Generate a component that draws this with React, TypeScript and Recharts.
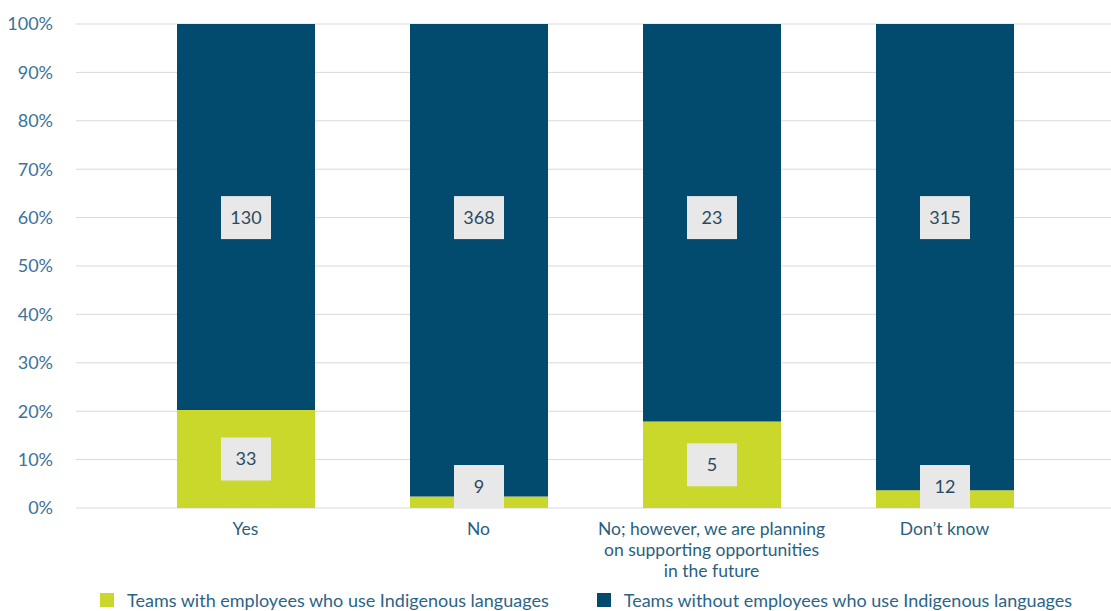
import { Bar, BarChart, CartesianGrid, LabelList, XAxis, YAxis } from "recharts";

const categories = [
  "Yes",
  "No",
  "No; however, we are planning on supporting opportunities in the future",
  "Don’t know",
];
const tickLines: string[][] = [
  ["Yes"],
  ["No"],
  ["No; however, we are planning", "on supporting opportunities", "in the future"],
  ["Don’t know"],
];
const withLanguages = [33, 9, 5, 12];
const withoutLanguages = [130, 368, 23, 315];
const yTicks = [0, 0.1, 0.2, 0.3, 0.4, 0.5, 0.6, 0.7, 0.8, 0.9, 1];

const seriesNames = [
  "Teams with employees who use Indigenous languages",
  "Teams without employees who use Indigenous languages",
];

const LIME = "#c9d82b";
const NAVY = "#024a6e";
const FONT = "Lato, 'Open Sans', sans-serif";
const PLOT_H = 484;
const BOX_W = 50;
const BOX_H = 43;

const data = categories.map((c, i) => ({
  name: c,
  with: withLanguages[i],
  without: withoutLanguages[i],
}));

function ValueBox({ cx, cy, value }: { cx: number; cy: number; value: any }) {
  return (
    <g>
      <rect x={cx - BOX_W / 2} y={cy - BOX_H / 2} width={BOX_W} height={BOX_H} fill="#e8e8e8" />
      <text
        x={cx}
        y={cy}
        dy={6}
        textAnchor="middle"
        fontFamily={FONT}
        fontSize={18}
        fill="#2b4a60"
      >
        {value}
      </text>
    </g>
  );
}

// bottom segment: centred, but never hangs below the axis
const bottomLabel = (props: any) => {
  const { x, y, width, height, value } = props;
  let cy = y + height / 2;
  if (cy + BOX_H / 2 > y + height) cy = y + height - BOX_H / 2;
  return <ValueBox cx={x + width / 2} cy={cy} value={value} />;
};

// top segment: labels sit at the 60% line
const topLabel = (props: any) => {
  const { x, y, width, value } = props;
  return <ValueBox cx={x + width / 2} cy={y + 0.4 * PLOT_H} value={value} />;
};

const CategoryTick = (props: any) => {
  const { x, y, index } = props;
  const lines = tickLines[index] ?? [props.payload.value];
  return (
    <text x={x} y={y + 27} textAnchor="middle" fontFamily={FONT} fontSize={17.5} fill="#2a5f80">
      {lines.map((l, i) => (
        <tspan key={i} x={x} dy={i === 0 ? 0 : 21}>
          {l}
        </tspan>
      ))}
    </text>
  );
};

export default function App() {
  return (
    <div style={{ position: "absolute", left: 0, top: 0, width: 1111, height: 611, background: "#fff" }}>
      <BarChart
        width={1111}
        height={611}
        data={data}
        stackOffset="expand"
        margin={{ top: 24, right: 0, left: 0, bottom: 43 }}
      >
        <CartesianGrid vertical={false} stroke="#d9d9d9" />
        <XAxis
          dataKey="name"
          axisLine={false}
          tickLine={false}
          tickSize={0}
          tickMargin={0}
          height={60}
          interval={0}
          padding={{ left: 53, right: 50 }}
          tick={<CategoryTick />}
        />
        <YAxis
          width={76}
          domain={[0, 1]}
          ticks={yTicks}
          axisLine={false}
          tickLine={false}
          tickMargin={17}
          tickFormatter={(v) => `${Math.round(v * 100)}%`}
          tick={{ fontFamily: FONT, fontSize: 18, fill: "#3b7399" }}
        />
        <Bar dataKey="with" stackId="a" fill={LIME} barSize={138} isAnimationActive={false}>
          <LabelList dataKey="with" content={bottomLabel} />
        </Bar>
        <Bar dataKey="without" stackId="a" fill={NAVY} barSize={138} isAnimationActive={false}>
          <LabelList dataKey="without" content={topLabel} />
        </Bar>
      </BarChart>
      <div
        style={{
          position: "absolute",
          left: 100,
          top: 589,
          display: "flex",
          alignItems: "center",
          fontFamily: FONT,
          fontSize: 18,
          color: "#2c6488",
          whiteSpace: "nowrap",
        }}
      >
        {seriesNames.map((n, i) => (
          <div key={n} style={{ display: "flex", alignItems: "center", marginRight: 48 }}>
            <span
              style={{ width: 14, height: 14, background: i === 0 ? LIME : NAVY, marginRight: 13, display: "inline-block" }}
            />
            <span>{n}</span>
          </div>
        ))}
      </div>
    </div>
  );
}
